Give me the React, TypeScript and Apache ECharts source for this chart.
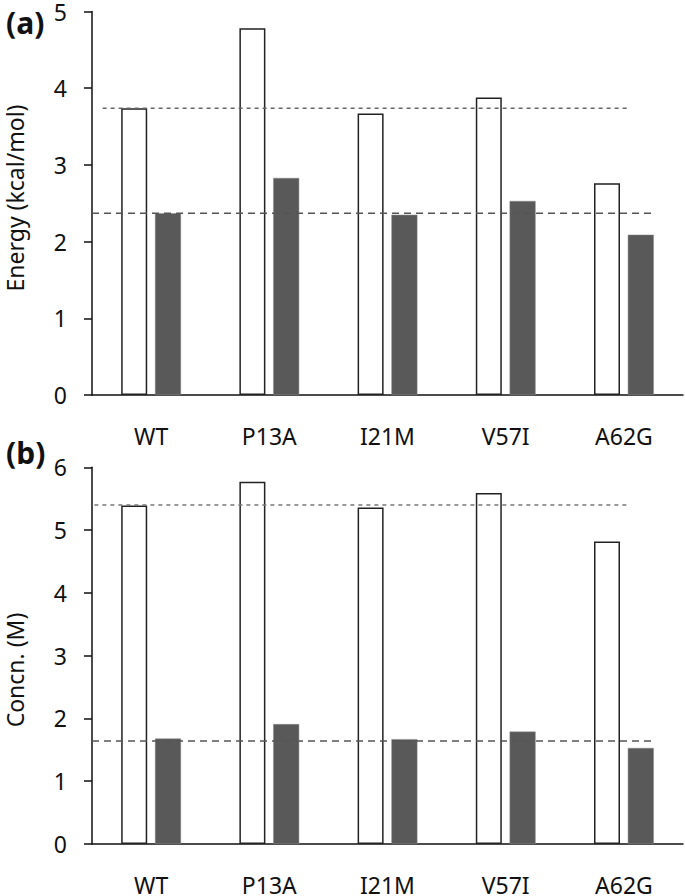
import React, { useEffect, useRef } from "react";
import * as echarts from "echarts";

const categories = ["WT", "P13A", "I21M", "V57I", "A62G"];

// Panel (a): Energy (kcal/mol)
const energyOpen = [3.74, 4.78, 3.67, 3.88, 2.76];
const energyFilled = [2.37, 2.83, 2.35, 2.53, 2.09];
const energyRefUpper = 3.74;
const energyRefLower = 2.37;
const energyTicks = [0, 1, 2, 3, 4, 5];

// Panel (b): Concn. (M)
const concOpen = [5.39, 5.77, 5.36, 5.59, 4.82];
const concFilled = [1.68, 1.91, 1.67, 1.79, 1.53];
const concRefUpper = 5.4;
const concRefLower = 1.64;
const concTicks = [0, 1, 2, 3, 4, 5, 6];

// reference-line spans, in category units (0 = left edge of axis, 5 = right edge)
const upperSpanA = [0.09, 4.53];
const upperSpanB = [0.02, 4.53];
const lowerSpan = [0.0, 4.75];

const FONT = "Noto Sans";

export default function App() {
  const ref = useRef<HTMLDivElement>(null);
  useEffect(() => {
    if (!ref.current) return;
    const chart = echarts.init(ref.current, undefined, { renderer: "svg" });

    const grids = [
      { left: 92, right: 2, top: 9, height: 386 },
      { left: 92, right: 2, top: 467.3, height: 385.4 },
    ];

    const mkCatAxis = (gi: number) => ({
      type: "category",
      gridIndex: gi,
      data: categories,
      axisLine: { lineStyle: { color: "#111", width: 1.5 } },
      axisTick: { show: false },
      axisLabel: { color: "#111", fontSize: 23, fontFamily: FONT, margin: 29 },
    });
    const mkHiddenX = (gi: number) => ({
      type: "value",
      gridIndex: gi,
      min: 0,
      max: 5,
      show: false,
    });
    const mkY = (gi: number, ticks: number[]) => ({
      type: "value",
      gridIndex: gi,
      min: ticks[0],
      max: ticks[ticks.length - 1],
      interval: 1,
      axisLine: { show: true, lineStyle: { color: "#111", width: 1.5 } },
      axisTick: { show: true, inside: false, length: 8, lineStyle: { color: "#111", width: 1.5 } },
      axisLabel: { color: "#111", fontSize: 23, fontFamily: FONT, margin: 25 },
      splitLine: { show: false },
    });

    const openStyle = { color: "#ffffff", borderColor: "#222", borderWidth: 1.5 };
    const filledStyle = { color: "#595959", borderColor: "#8a8a8a", borderWidth: 0.5 };

    const barPair = (gi: number, open: number[], filled: number[]) => [
      {
        type: "bar",
        xAxisIndex: gi * 2,
        yAxisIndex: gi,
        data: open,
        barWidth: 26,
        barGap: "30%",
        itemStyle: openStyle,
        z: 2,
      },
      {
        type: "bar",
        xAxisIndex: gi * 2,
        yAxisIndex: gi,
        data: filled,
        barWidth: 26,
        barGap: "30%",
        itemStyle: filledStyle,
        z: 2,
      },
    ];

    const refLine = (gi: number, span: number[], y: number, dash: number[], color: string) => ({
      type: "line",
      xAxisIndex: gi * 2 + 1,
      yAxisIndex: gi,
      data: [
        [span[0], y],
        [span[1], y],
      ],
      symbol: "none",
      lineStyle: { color, width: 1.5, type: dash },
      z: 5,
      silent: true,
    });

    const titleStyle = {
      fontSize: 23,
      fontFamily: FONT,
      fill: "#111",
      align: "center",
      verticalAlign: "middle",
    };

    chart.setOption({
      animation: false,
      backgroundColor: "#ffffff",
      grid: grids,
      xAxis: [mkCatAxis(0), mkHiddenX(0), mkCatAxis(1), mkHiddenX(1)],
      yAxis: [mkY(0, energyTicks), mkY(1, concTicks)],
      series: [
        ...barPair(0, energyOpen, energyFilled),
        ...barPair(1, concOpen, concFilled),
        refLine(0, upperSpanA, energyRefUpper, [4, 4], "#666"),
        refLine(0, lowerSpan, energyRefLower, [7, 5], "#555"),
        refLine(1, upperSpanB, concRefUpper, [4, 4], "#777"),
        refLine(1, lowerSpan, concRefLower, [7, 5], "#555"),
      ],
      graphic: [
        {
          type: "text",
          left: 6,
          top: 7,
          style: { text: "(a)", fontSize: 30, fontWeight: "bold", fontFamily: FONT, fill: "#111" },
        },
        {
          type: "text",
          left: 6,
          top: 437,
          style: { text: "(b)", fontSize: 30, fontWeight: "bold", fontFamily: FONT, fill: "#111" },
        },
        {
          type: "text",
          x: 15,
          y: 198,
          rotation: Math.PI / 2,
          style: { text: "Energy (kcal/mol)", ...titleStyle },
        },
        {
          type: "text",
          x: 15,
          y: 670,
          rotation: Math.PI / 2,
          style: { text: "Concn. (M)", ...titleStyle },
        },
      ],
    });
    return () => chart.dispose();
  }, []);
  return (
    <div
      ref={ref}
      style={{ position: "fixed", left: 0, top: 0, width: 685, height: 896, background: "#fff" }}
    />
  );
}
